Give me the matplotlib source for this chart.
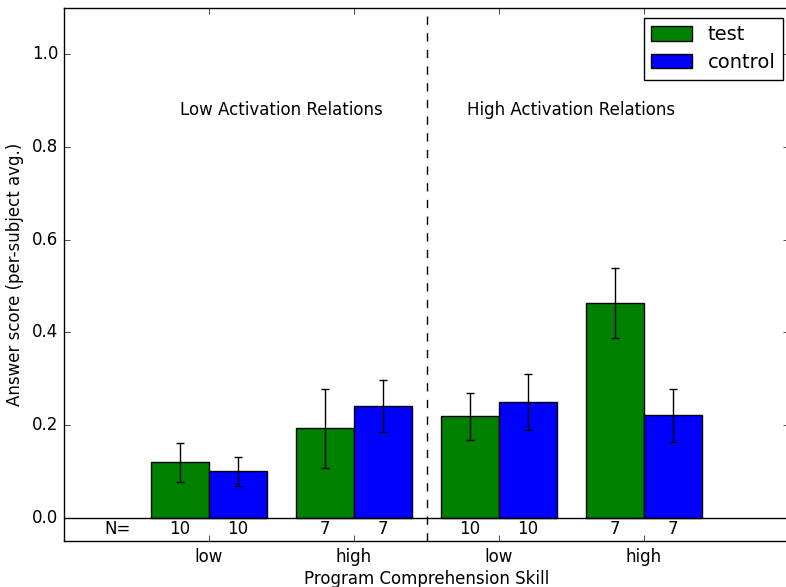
import matplotlib
matplotlib.use("Agg")
import matplotlib.pyplot as plt
import numpy as np

plt.style.use("classic")
plt.rcParams["font.family"] = ["DejaVu Sans"]

groups = ["low", "high", "low", "high"]
test_vals = [0.120, 0.193, 0.219, 0.464]
test_err = [0.042, 0.085, 0.051, 0.075]
control_vals = [0.100, 0.242, 0.250, 0.221]
control_err = [0.031, 0.056, 0.060, 0.058]
n_test = [10, 7, 10, 7]
n_control = [10, 7, 10, 7]
section_titles = ["Low Activation Relations", "High Activation Relations"]

fig = plt.figure(figsize=(7.86, 5.87), dpi=100, facecolor="white")
ax = fig.add_axes([64 / 786, 46 / 587, 725 / 786, 533 / 587])

pos = np.arange(1, len(groups) + 1)
w = 0.4
ax.bar(pos - w, test_vals, w, align="edge", color="green", edgecolor="black",
       linewidth=1, label="test")
ax.bar(pos, control_vals, w, align="edge", color="blue", edgecolor="black",
       linewidth=1, label="control")
ax.errorbar(pos - w / 2, test_vals, yerr=test_err, fmt="none", ecolor="black",
            capsize=3, elinewidth=1, capthick=1)
ax.errorbar(pos + w / 2, control_vals, yerr=control_err, fmt="none", ecolor="black",
            capsize=3, elinewidth=1, capthick=1)

ax.axhline(0, color="black", linewidth=1)
ax.axvline(2.5, color="black", linestyle="--", linewidth=1)

ax.text(0.37, -0.025, "N=", ha="center", va="center", fontsize=12)
for p, nt, nc in zip(pos, n_test, n_control):
    ax.text(p - w / 2, -0.025, str(nt), ha="center", va="center", fontsize=12)
    ax.text(p + w / 2, -0.025, str(nc), ha="center", va="center", fontsize=12)

ax.text(1.5, 0.88, section_titles[0], ha="center", va="center", fontsize=12)
ax.text(3.5, 0.88, section_titles[1], ha="center", va="center", fontsize=12)

ax.set_xlim(0, 5)
ax.set_ylim(-0.05, 1.1)
ax.set_xticks(pos)
ax.set_xticklabels(groups, fontsize=12)
ax.set_yticks(np.arange(0, 1.01, 0.2))
ax.set_yticklabels(["%.1f" % v for v in np.arange(0, 1.01, 0.2)], fontsize=12)
ax.tick_params(direction="in", length=4, top=True, right=True)
ax.tick_params(axis="x", pad=5)
ax.set_xlabel("Program Comprehension Skill", fontsize=12, labelpad=3)
ax.set_ylabel("Answer score (per-subject avg.)", fontsize=12, labelpad=6)

leg = ax.legend(loc="upper right", bbox_to_anchor=(783 / 786, 1 - 18 / 587),
                bbox_transform=fig.transFigure, fontsize=14, fancybox=False,
                borderaxespad=0, handlelength=2.1, handleheight=0.75,
                handletextpad=0.8, borderpad=0.38, labelspacing=0.45)
leg.get_frame().set_linewidth(1)

fig.savefig("out.png", dpi=100, facecolor="white")
